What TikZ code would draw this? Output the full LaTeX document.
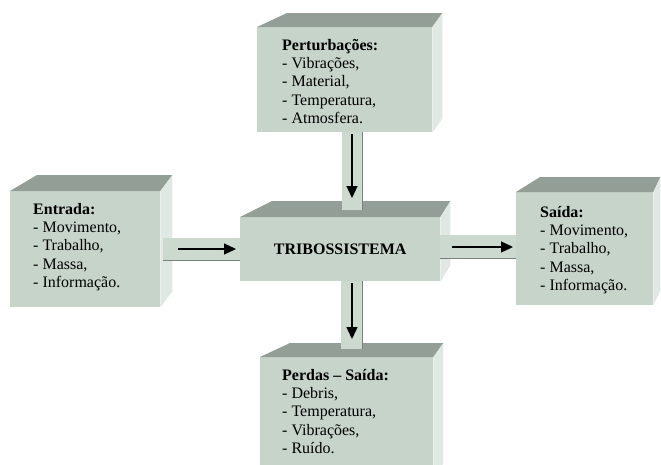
\documentclass[tikz,border=0pt]{standalone}
\usepackage{fontspec}
\setmainfont{Liberation Serif}
\usetikzlibrary{calc,arrows.meta}
\definecolor{frontc}{HTML}{C6D4CA}
\definecolor{topc}{HTML}{939E97}
\definecolor{sidec}{HTML}{E0E8E3}
\definecolor{barc}{HTML}{CCD9CF}
\definecolor{edgec}{HTML}{76827A}
\begin{document}
\begin{tikzpicture}[x=1pt,y=-1pt,
  front/.style={fill=frontc, draw=none, inner sep=0pt, anchor=north west, rectangle},
  topface/.style={fill=topc, draw=none},
  sideface/.style={fill=sidec, draw=none},
  boxtext/.style={anchor=north west, inner sep=0pt, align=left, font=\fontsize{16}{18.3}\selectfont},
  arr/.style={-{Triangle[length=12pt,width=11pt]}, line width=1.3pt, black},
  bar/.style={fill=barc},
  baredge/.style={draw=edgec, line width=1pt}]
\useasboundingbox (0,0) rectangle (661,464);
\clip (0,0) rectangle (661,464);

% Perturbacoes box
\node[front, minimum width=175pt, minimum height=105pt] (P) at (257,27) {};
\fill[topface] (P.north west) -- (P.north east) -- ($(P.north east)+(10,-14)$) -- ($(P.north west)+(30,-14)$) -- cycle;
\fill[sideface] (P.north east) -- ($(P.north east)+(10,-14)$) -- ($(P.south east)+(10,-14)$) -- (P.south east) -- cycle;
\node[boxtext] (Ptxt) at (282,39) {\textbf{Perturbações:}\\- Vibrações,\\- Material,\\- Temperatura,\\- Atmosfera.};

% Entrada box
\node[front, minimum width=150pt, minimum height=116pt] (E) at (10,191) {};
\fill[topface] (E.north west) -- (E.north east) -- ($(E.north east)+(12,-16)$) -- ($(E.north west)+(27,-16)$) -- cycle;
\fill[sideface] (E.north east) -- ($(E.north east)+(12,-16)$) -- ($(E.south east)+(12,-16)$) -- (E.south east) -- cycle;
\node[boxtext] (Etxt) at (33,203) {\textbf{Entrada:}\\- Movimento,\\- Trabalho,\\- Massa,\\- Informação.};

% Saida box
\node[front, minimum width=137pt, minimum height=113pt] (S) at (516,192) {};
\fill[topface] (S.north west) -- (S.north east) -- ($(S.north east)+(7,-15)$) -- ($(S.north west)+(24,-15)$) -- cycle;
\fill[sideface] (S.north east) -- ($(S.north east)+(7,-15)$) -- ($(S.south east)+(7,-15)$) -- (S.south east) -- cycle;
\node[boxtext] (Stxt) at (540,206) {\textbf{Saída:}\\- Movimento,\\- Trabalho,\\- Massa,\\- Informação.};

% Tribossistema box
\node[front, minimum width=200pt, minimum height=64pt, font=\bfseries\fontsize{16}{18}\selectfont] (T) at (240,217) {TRIBOSSISTEMA};
\fill[topface] (T.north west) -- (T.north east) -- ($(T.north east)+(10,-16)$) -- ($(T.north west)+(32,-16)$) -- cycle;
\fill[sideface] (T.north east) -- ($(T.north east)+(10,-16)$) -- ($(T.south east)+(10,-16)$) -- (T.south east) -- cycle;

% Perdas box
\node[front, minimum width=173pt, minimum height=120pt] (D) at (260,357) {};
\fill[topface] (D.north west) -- (D.north east) -- ($(D.north east)+(10,-14)$) -- ($(D.north west)+(30,-14)$) -- cycle;
\fill[sideface] (D.north east) -- ($(D.north east)+(10,-14)$) -- ($(D.south east)+(10,-14)$) -- (D.south east) -- cycle;
\node[boxtext] (Dtxt) at (282,369) {\textbf{Perdas – Saída:}\\- Debris,\\- Temperatura,\\- Vibrações,\\- Ruído.};

% connector bars
\fill[bar] (163,238) rectangle (240,260);
\draw[baredge] (163,260) -- (240,260);
\fill[bar] (440,235) rectangle (516,258);
\draw[baredge] (440,258) -- (516,258);
\fill[bar] (342,132) rectangle (362,210);
\draw[baredge] (362,132) -- (362,210);
\fill[bar] (341,281) rectangle (362,349);
\draw[baredge] (362,281) -- (362,349);

% arrows
\coordinate (aL1) at (178,249); \coordinate (aL2) at (236,249);
\coordinate (aR1) at (452,247); \coordinate (aR2) at (513,247);
\coordinate (aT1) at (352,134); \coordinate (aT2) at (352,198);
\coordinate (aB1) at (352,283); \coordinate (aB2) at (352,339);
\draw[arr] (aL1) -- (aL2);
\draw[arr] (aR1) -- (aR2);
\draw[arr] (aT1) -- (aT2);
\draw[arr] (aB1) -- (aB2);
\end{tikzpicture}
\end{document}
